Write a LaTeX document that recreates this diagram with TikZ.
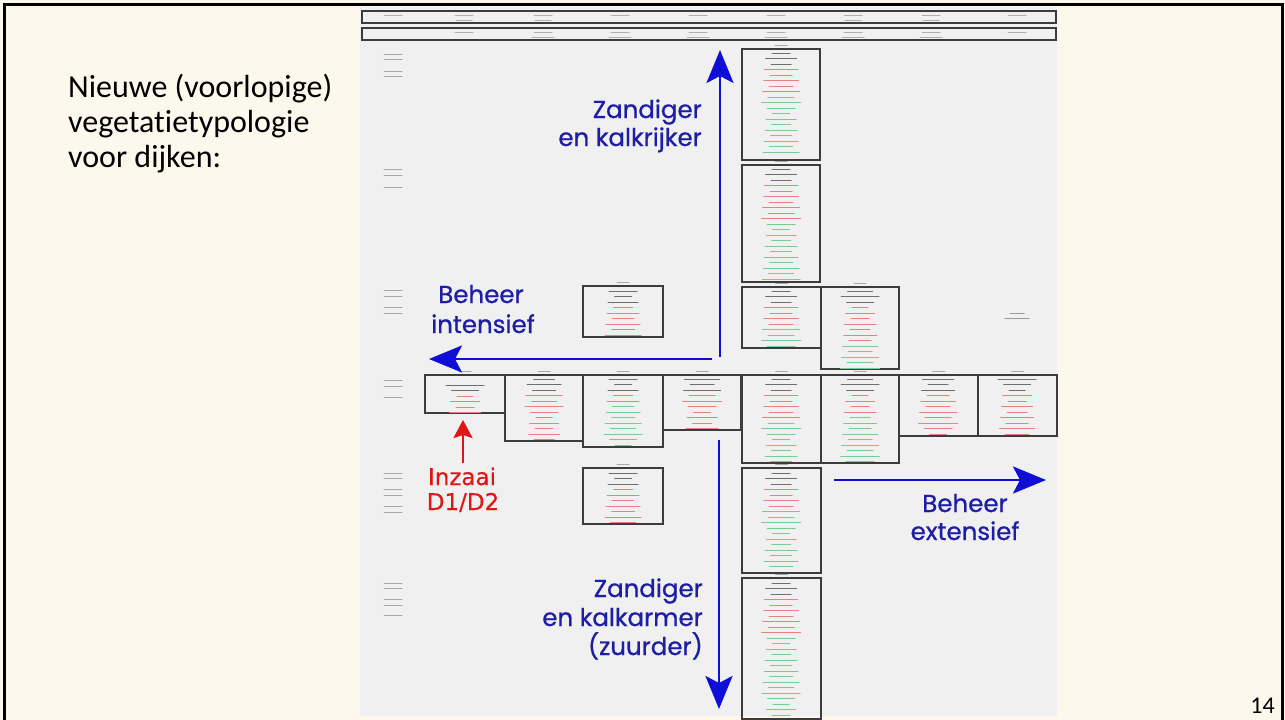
\documentclass[tikz,border=0pt]{standalone}
\usepackage{fontspec}
\setmainfont{Carlito}[Ligatures=CommonOff]
\newfontfamily\axisfont{Poppins}[FakeBold=0.8]
\newfontfamily\seedfont{DejaVu Sans}[FakeBold=0.5]
\usetikzlibrary{arrows.meta}

\definecolor{slidebg}{RGB}{254,248,236}
\definecolor{panelbg}{RGB}{240,240,240}
\definecolor{axisblue}{RGB}{14,14,215}
\definecolor{labelblue}{RGB}{30,30,165}
\definecolor{seedred}{RGB}{222,22,22}
\definecolor{framegray}{RGB}{60,60,60}
\definecolor{tk}{RGB}{110,110,110}
\definecolor{tr}{RGB}{234,128,128}
\definecolor{tg}{RGB}{120,204,145}

\tikzset{
  boxline/.style={draw=framegray, line width=1.4pt},
  headline/.style={draw=framegray, line width=1.3pt},
  axisarrow/.style={draw=axisblue, line width=2.8pt,
    -{Stealth[length=33pt,width=27pt,inset=7pt]}},
  seedarrow/.style={draw=seedred, line width=2.4pt,
    -{Stealth[length=18pt,width=19pt,inset=3pt]}},
  axislabel/.style={text=labelblue, font=\axisfont\fontsize{24.5}{30}\selectfont, inner sep=0pt},
  seedlabel/.style={text=seedred, font=\seedfont\fontsize{23}{26}\selectfont, inner sep=0pt},
  titletext/.style={text=black, font=\fontsize{32}{35}\selectfont, inner sep=0pt},
}

% one faint line of small print, centred at (#1,#2), colour #3, length #4
\newcommand\printline[4]{\draw[color=#3, line width=1pt, line cap=round] ({#1-#4/2},{#2}) -- ++(#4,0);}

% a column of small-print lines: centre x #1, first y #2, colours #3
\newcommand\printlines[3]{%
  \foreach \c [count=\i] in {#3}{%
    \pgfmathsetmacro\len{16+mod(\i*37+#1,24)}%
    \pgfmathsetmacro\yy{#2+(\i-1)*5.5}%
    \printline{#1}{\yy}{\c}{\len}%
  }}

% a typology box with its small caption above: corners (#1,#2) (#3,#4)
\newcommand\typebox[4]{%
  \draw[boxline] (#1,#2) rectangle (#3,#4);
  \printline{(#1+#3)/2}{#2-4}{tk!60}{12}}

\begin{document}
\begin{tikzpicture}[x=1pt,y=-1pt]
\useasboundingbox (0,0) rectangle (1285,720);
\clip (0,0) rectangle (1285,720);

% slide
\fill[slidebg] (0,0) rectangle (1285,720);
\fill[panelbg] (360,7) rectangle (1057,716);
\draw[black, line width=2.6pt] (4.5,740) -- (4.5,4.5) -- (1282.5,4.5) -- (1282.5,740);

% heading rows of the table
\draw[headline] (362,11) rectangle (1056,23);
\draw[headline] (362,28) rectangle (1056,40);
\foreach \x in {393,464,543,620,698,776,853,931,1017} {\printline{\x}{15}{tk!55}{18}}
\foreach \x in {464,543,853,931} {\printline{\x}{20}{tk!55}{16}}
\foreach \x in {464,543,620,698,776,853,931,1017} {\printline{\x}{32}{tk!55}{18}}
\foreach \x in {543,620,698,776,853,931} {\printline{\x}{37}{tk!55}{22}}

% row labels in the first column
\foreach \y in {54,59,71,76,169,175,187,290,296,307,313,380,386,397,473,478,489,495,506,512,583,588,599,605,615}
  {\printline{393}{\y}{tk!60}{18}}

% upper column
\typebox{742}{49}{820}{160}
\printlines{781}{53}{tk,tk,tk,tr,tr,tr,tr,tr,tg,tg,tg,tg,tg,tg,tg,tg,tg,tg,tg}
\typebox{742}{165}{820}{282}
\printlines{781}{169}{tk,tk,tk,tr,tr,tr,tr,tr,tr,tr,tg,tg,tg,tg,tg,tg,tg,tg,tg,tg,tg}

% row above the centre
\typebox{583}{286}{663}{337}
\printlines{623}{291}{tk,tk,tk,tr,tr,tr,tr,tr,tr}
\typebox{742}{287}{821}{348}
\printlines{781}{291}{tk,tk,tk,tr,tr,tr,tr,tg,tg,tg,tg}
\typebox{821}{287}{899}{369}
\printlines{860}{291}{tk,tk,tk,tr,tr,tr,tr,tr,tr,tr,tg,tg,tg,tg,tg}
\printline{1017}{313}{tk!70}{14}
\printline{1017}{318}{tk!70}{24}

% centre row
\typebox{425}{375}{505}{413}
\printlines{465}{385}{tk,tk,tr,tr,tr,tr}
\typebox{505}{375}{583}{441}
\printlines{544}{379}{tk,tk,tk,tr,tr,tr,tr,tr,tr,tr,tr,tr}
\typebox{583}{375}{663}{447}
\printlines{623}{379}{tk,tk,tk,tr,tr,tg,tg,tg,tg,tg,tg,tg,tg}
\typebox{663}{375}{741}{430}
\printlines{702}{379}{tk,tk,tk,tr,tr,tr,tr,tr,tr,tr}
\typebox{742}{375}{821}{463}
\printlines{781}{379}{tk,tk,tk,tr,tr,tr,tr,tr,tg,tg,tg,tg,tg,tg,tg,tg}
\typebox{821}{375}{899}{463}
\printlines{860}{379}{tk,tk,tk,tr,tr,tr,tr,tg,tg,tg,tg,tg,tg,tg,tg,tg}
\typebox{899}{375}{978}{436}
\printlines{938}{379}{tk,tk,tk,tr,tr,tr,tr,tr,tr,tr,tr}
\typebox{978}{375}{1057}{436}
\printlines{1017}{379}{tk,tk,tk,tr,tr,tr,tr,tr,tr,tr,tr}

% rows below the centre
\typebox{583}{468}{663}{524}
\printlines{623}{473}{tk,tk,tk,tr,tr,tr,tr,tr,tr,tr}
\typebox{742}{468}{821}{573}
\printlines{781}{473}{tk,tk,tk,tr,tr,tr,tr,tg,tg,tg,tg,tg,tg,tg,tg,tg,tg,tg}
\typebox{742}{578}{821}{719}
\printlines{781}{583}{tk,tk,tk,tr,tr,tr,tr,tr,tr,tr,tg,tg,tg,tg,tg,tg,tg,tg,tg,tg,tg,tg,tg,tg,tg}

% gradient arrows
\coordinate (upS) at (720,357);   \coordinate (upE) at (720,50);
\coordinate (leftS) at (712,359); \coordinate (leftE) at (429,359);
\coordinate (downS) at (719,440); \coordinate (downE) at (719,709);
\coordinate (rightS) at (834,480);\coordinate (rightE) at (1046,480);
\coordinate (seedS) at (463,463); \coordinate (seedE) at (463,420);
\draw[axisarrow] (upS) -- (upE);
\draw[axisarrow] (leftS) -- (leftE);
\draw[axisarrow] (downS) -- (downE);
\draw[axisarrow] (rightS) -- (rightE);
\draw[seedarrow] (seedS) -- (seedE);

% arrow labels
\node[axislabel, anchor=base east] (kr1) at (702,118) {Zandiger};
\node[axislabel, anchor=base east] (kr2) at (702,146) {en kalkrijker};
\node[axislabel, anchor=base] (in1) at (481,303) {Beheer};
\node[axislabel, anchor=base] (in2) at (483,333) {intensief};
\node[axislabel, anchor=base east] (ka1) at (703,597) {Zandiger};
\node[axislabel, anchor=base east] (ka2) at (703,626) {en kalkarmer};
\node[axislabel, anchor=base east] (ka3) at (703,655) {(zuurder)};
\node[axislabel, anchor=base] (ex1) at (965,512) {Beheer};
\node[axislabel, anchor=base] (ex2) at (965,540) {extensief};
\node[seedlabel, anchor=base] (sd1) at (462,485) {Inzaai};
\node[seedlabel, anchor=base] (sd2) at (463,510) {D1/D2};

% slide title and page number
\node[titletext, anchor=base west] (t1) at (68,97) {Nieuwe (voorlopige)};
\node[titletext, anchor=base west] (t2) at (68,132) {vegetatietypologie};
\node[titletext, anchor=base west] (t3) at (68,167) {voor dijken:};
\node[text=black, font=\fontsize{24}{28}\selectfont, inner sep=0pt, anchor=base east] (pg) at (1275,713) {14};
\end{tikzpicture}
\end{document}
